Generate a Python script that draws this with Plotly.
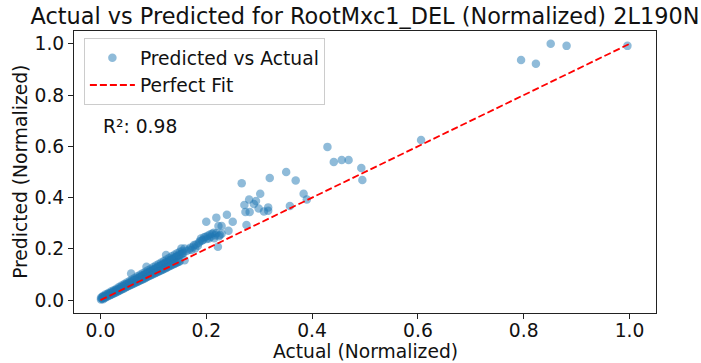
import plotly.graph_objects as go

# Dense band of low values (actual, predicted)
actual_band = [
    0.001, 0.001, 0.003, 0.003, 0.005, 0.005, 0.005, 0.008, 0.008, 0.010, 0.010, 0.010,
    0.013, 0.013, 0.015, 0.015, 0.015, 0.018, 0.018, 0.020, 0.020, 0.020, 0.023, 0.023,
    0.025, 0.025, 0.025, 0.028, 0.028, 0.030, 0.030, 0.030, 0.033, 0.033, 0.035, 0.035,
    0.035, 0.038, 0.038, 0.040, 0.040, 0.040, 0.043, 0.043, 0.045, 0.045, 0.045, 0.048,
    0.048, 0.050, 0.050, 0.050, 0.053, 0.053, 0.055, 0.055, 0.055, 0.058, 0.058, 0.058,
    0.060, 0.060, 0.060, 0.063, 0.063, 0.065, 0.065, 0.065, 0.068, 0.068, 0.070, 0.070,
    0.070, 0.073, 0.073, 0.075, 0.075, 0.075, 0.078, 0.078, 0.080, 0.080, 0.080, 0.083,
    0.083, 0.085, 0.085, 0.085, 0.087, 0.088, 0.088, 0.090, 0.090, 0.090, 0.093, 0.093,
    0.095, 0.095, 0.095, 0.098, 0.098, 0.100, 0.100, 0.100, 0.103, 0.103, 0.105, 0.105,
    0.105, 0.108, 0.108, 0.110, 0.110, 0.110, 0.113, 0.113, 0.115, 0.115, 0.115, 0.118,
    0.118, 0.120, 0.120, 0.120, 0.123, 0.123, 0.124, 0.125, 0.125, 0.125, 0.128, 0.128,
    0.130, 0.130, 0.130, 0.133, 0.133, 0.135, 0.135, 0.135, 0.138, 0.138, 0.140, 0.140,
    0.140, 0.143, 0.143, 0.145, 0.145, 0.145, 0.148, 0.148, 0.150, 0.150, 0.150, 0.153,
    0.153, 0.155, 0.155, 0.157, 0.159, 0.159,
]
predicted_band = [
    0.003, 0.009, 0.006, 0.012, 0.004, 0.010, 0.016, 0.009, 0.015, 0.011, 0.018, 0.023,
    0.014, 0.021, 0.016, 0.023, 0.028, 0.019, 0.026, 0.021, 0.029, 0.034, 0.024, 0.031,
    0.026, 0.034, 0.039, 0.029, 0.037, 0.031, 0.039, 0.045, 0.035, 0.042, 0.036, 0.045,
    0.051, 0.040, 0.048, 0.042, 0.051, 0.057, 0.045, 0.054, 0.047, 0.057, 0.063, 0.050,
    0.060, 0.052, 0.062, 0.069, 0.055, 0.065, 0.057, 0.068, 0.075, 0.060, 0.071, 0.104,
    0.062, 0.073, 0.081, 0.065, 0.077, 0.067, 0.079, 0.087, 0.070, 0.082, 0.072, 0.085,
    0.093, 0.075, 0.088, 0.077, 0.090, 0.099, 0.080, 0.094, 0.082, 0.096, 0.105, 0.085,
    0.099, 0.087, 0.102, 0.111, 0.130, 0.090, 0.105, 0.092, 0.107, 0.117, 0.095, 0.111,
    0.097, 0.113, 0.123, 0.100, 0.117, 0.102, 0.119, 0.129, 0.105, 0.122, 0.107, 0.125,
    0.135, 0.110, 0.128, 0.112, 0.131, 0.141, 0.115, 0.134, 0.117, 0.136, 0.147, 0.120,
    0.140, 0.122, 0.142, 0.153, 0.125, 0.145, 0.176, 0.127, 0.148, 0.159, 0.130, 0.151,
    0.132, 0.154, 0.165, 0.135, 0.157, 0.137, 0.160, 0.171, 0.140, 0.163, 0.142, 0.165,
    0.177, 0.145, 0.169, 0.147, 0.171, 0.183, 0.150, 0.174, 0.152, 0.177, 0.189, 0.180,
    0.202, 0.182, 0.192, 0.185, 0.156, 0.202,
]

# Mid-range cluster
actual_mid = [
    0.163, 0.168, 0.170, 0.172, 0.175, 0.177, 0.179, 0.181, 0.184, 0.186, 0.188, 0.190,
    0.192, 0.194, 0.196, 0.199, 0.201, 0.203, 0.205, 0.207, 0.209, 0.211, 0.214, 0.215,
    0.217, 0.219, 0.222, 0.224, 0.226, 0.229,
]
predicted_mid = [
    0.192, 0.198, 0.205, 0.196, 0.208, 0.215, 0.202, 0.217, 0.212, 0.224, 0.230, 0.241,
    0.233, 0.235, 0.245, 0.247, 0.239, 0.251, 0.241, 0.256, 0.247, 0.259, 0.263, 0.242,
    0.253, 0.261, 0.208, 0.249, 0.254, 0.259,
]

# Scattered upper values
actual_high = [
    0.200, 0.219, 0.223, 0.229, 0.239, 0.242, 0.250, 0.267, 0.272, 0.274, 0.276, 0.281,
    0.282, 0.290, 0.294, 0.299, 0.302, 0.309, 0.317, 0.317, 0.320, 0.351, 0.358, 0.369,
    0.384, 0.390, 0.429, 0.441, 0.456, 0.469, 0.493, 0.495, 0.606, 0.795, 0.823, 0.851,
    0.881, 0.996,
]
predicted_high = [
    0.306, 0.322, 0.289, 0.289, 0.333, 0.271, 0.306, 0.456, 0.371, 0.344, 0.293, 0.393,
    0.344, 0.375, 0.387, 0.358, 0.415, 0.346, 0.349, 0.362, 0.477, 0.500, 0.367, 0.467,
    0.415, 0.393, 0.598, 0.539, 0.547, 0.547, 0.516, 0.469, 0.625, 0.937, 0.922, 1.000,
    0.992, 0.992,
]

actual = actual_band + actual_mid + actual_high
predicted = predicted_band + predicted_mid + predicted_high

fit_line = [0.0, 1.0]
r2_value = 0.98

tick_vals = [0.0, 0.2, 0.4, 0.6, 0.8, 1.0]
tick_text = ["0.0", "0.2", "0.4", "0.6", "0.8", "1.0"]

FONT = "DejaVu Sans"
TEXT = "#111111"
SPINE = "#222222"
LABEL_SIZE = 18.7

fig = go.Figure()
fig.add_trace(go.Scatter(
    x=actual, y=predicted, mode="markers", name="Predicted vs Actual",
    marker=dict(color="#1f77b4", size=8.5, opacity=0.5, line=dict(width=0)),
))
fig.add_trace(go.Scatter(
    x=fit_line, y=fit_line, mode="lines", name="Perfect Fit",
    line=dict(color="#ff0000", width=1.8, dash="7px,3px"),
))

axis_common = dict(
    range=[-0.05, 1.05], tickvals=tick_vals, ticktext=tick_text,
    showgrid=False, zeroline=False, showline=True, mirror=True,
    linecolor=SPINE, linewidth=1, ticks="outside", ticklen=5,
    tickcolor=SPINE, tickwidth=1, automargin=False,
    tickfont=dict(family=FONT, size=LABEL_SIZE, color=TEXT),
)

fig.update_layout(
    width=701, height=363,
    margin=dict(l=74, r=45, t=31, b=50, autoexpand=False),
    paper_bgcolor="white", plot_bgcolor="white",
    title=dict(
        text="Actual vs Predicted for RootMxc1_DEL (Normalized) 2L190N",
        x=(74 + 656) / 2 / 701, xanchor="center", y=0.955, yanchor="middle",
        font=dict(family=FONT, size=22.4, color=TEXT),
    ),
    xaxis=dict(**axis_common, ticklabelstandoff=-4),
    yaxis=dict(**axis_common),
    legend=dict(
        x=0.017, y=0.975, xanchor="left", yanchor="top",
        bgcolor="rgba(255,255,255,0.8)", bordercolor="#cccccc", borderwidth=1,
        font=dict(family=FONT, size=LABEL_SIZE, color=TEXT),
        itemwidth=45,
    ),
    showlegend=True,
)

# Axis titles
fig.add_annotation(
    x=0.5, y=-0.138, xref="paper", yref="paper", xanchor="center", yanchor="middle",
    text="Actual (Normalized)", showarrow=False,
    font=dict(family=FONT, size=LABEL_SIZE, color=TEXT),
)
fig.add_annotation(
    x=-0.093, y=0.5, xref="paper", yref="paper", xanchor="center", yanchor="middle",
    text="Predicted (Normalized)", showarrow=False, textangle=-90,
    font=dict(family=FONT, size=LABEL_SIZE, color=TEXT),
)

# Goodness-of-fit label
fig.add_annotation(
    x=0.046, y=0.66, xref="paper", yref="paper", xanchor="left", yanchor="middle",
    text=f"R²: {r2_value:.2f}", showarrow=False,
    font=dict(family=FONT, size=LABEL_SIZE, color=TEXT),
)

fig.write_html("out.html")
